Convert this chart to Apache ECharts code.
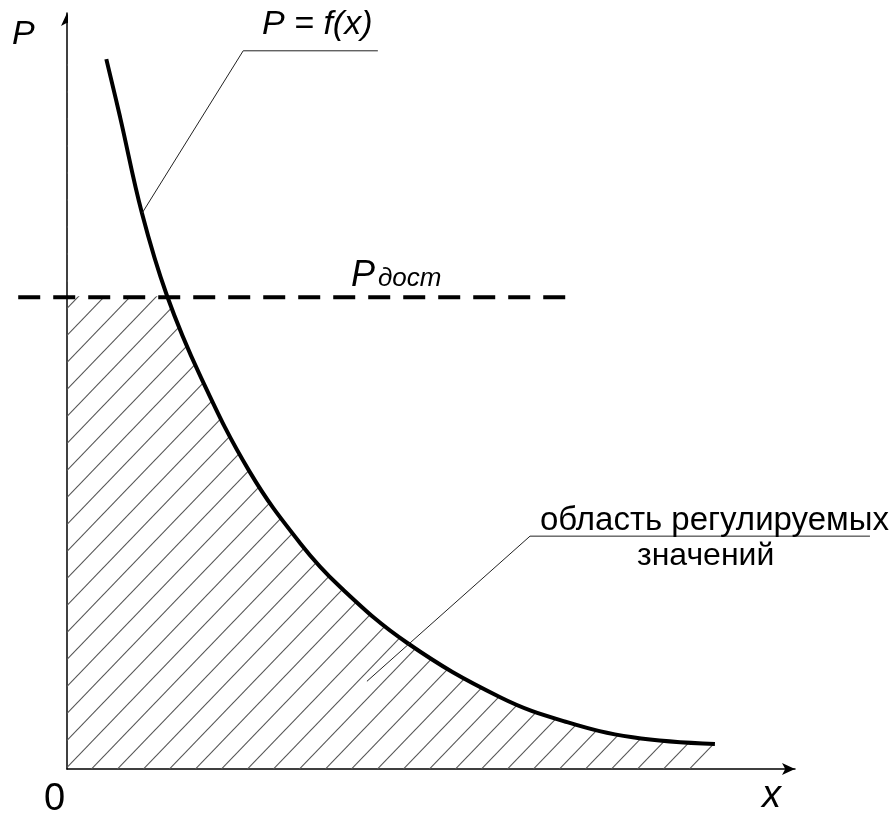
<!DOCTYPE html>
<html><head><meta charset="utf-8">
<script src="https://cdn.jsdelivr.net/npm/echarts@6/dist/echarts.min.js"></script>
<style>html,body{margin:0;padding:0;background:#fff}#c{width:894px;height:814px}</style>
</head><body><div id="c"></div>
<script>
// P = f(x) curve
const curveX = [5.4, 7.3, 10.3, 13.7, 18.3, 25.1, 32.0, 37.5, 46.7, 59.5, 68.7, 77.7, 89.0];
const curveP = [93.9, 86.2, 73.5, 62.7, 52.0, 39.3, 29.9, 24.1, 16.7, 9.5, 6.2, 4.2, 3.3];
// P_дост level and extent of the dashed line
const pDost = 62.4;
const pDostX = [-6.7, 69.0];
// leader lines for the labels
const leaderFx = [[10.3, 73.5], [24.2, 95.0], [42.7, 95.0]];
const leaderArea = [[41.2, 11.6], [63.6, 30.8], [110.3, 30.8]];
// texts
const labelAxisP = 'P';
const labelAxisX = 'x';
const labelOrigin = '0';
const labelCurve = 'P = f(x)';
const labelDostMain = 'P';
const labelDostSub = 'дост';
const labelArea1 = 'область регулируемых';
const labelArea2 = 'значений';

const curveData = curveX.map((x, i) => [x, curveP[i]]);
const areaData = [[0, curveP[0]]].concat(curveData);
const dostData = pDostX.map(x => [x, pDost]);

// hatch pattern
const tile = document.createElement('canvas');
tile.width = 26; tile.height = 27;
const g = tile.getContext('2d');
g.strokeStyle = '#555'; g.lineWidth = 1.1;
[[0, 0], [26, 0], [-26, 0]].forEach(o => {
  g.beginPath(); g.moveTo(-1 + o[0], 28.04 + o[1]); g.lineTo(27 + o[0], -1.04 + o[1]); g.stroke();
});

const chart = echarts.init(document.getElementById('c'), null, {renderer: 'canvas'});
const F = 'Liberation Sans, Arial, sans-serif';
const axisCommon = {
  type: 'value', min: 0, max: 100,
  axisLine: {show: true, onZero: true, symbol: ['none', 'arrow'], symbolSize: [9, 13],
    lineStyle: {color: '#000', width: 1.5}},
  axisTick: {show: false}, axisLabel: {show: false}, splitLine: {show: false}
};
chart.setOption({
  backgroundColor: '#ffffff',
  animation: false,
  grid: {left: 67, right: 99, top: 13, bottom: 45},
  xAxis: axisCommon,
  yAxis: axisCommon,
  series: [
    {type: 'line', data: areaData, smooth: 0.4, symbol: 'none', z: 1,
      lineStyle: {width: 0, opacity: 0},
      areaStyle: {color: {image: tile, repeat: 'repeat'}, opacity: 1}},
    {type: 'line', data: curveData, smooth: 0.4, symbol: 'none', z: 3,
      lineStyle: {color: '#000', width: 4}}
  ]
});

// annotation shapes placed through the chart's own scales
const toPx = pts => pts.map(p => chart.convertToPixel({gridIndex: 0}, p));
const topLeft = chart.convertToPixel({gridIndex: 0}, [0, 100]);
const capRight = chart.convertToPixel({gridIndex: 0}, [30, pDost]);
const graphics = [
  // hides the hatching above the P_дост level
  {type: 'rect', z: 2, shape: {x: topLeft[0] + 1, y: topLeft[1], width: capRight[0] - topLeft[0], height: capRight[1] - topLeft[1] - 1},
    style: {fill: '#ffffff'}},
  {type: 'polyline', z: 100, shape: {points: toPx(dostData)},
    style: {stroke: '#000', lineWidth: 4, lineDash: [22, 13], lineCap: 'butt', fill: null}},
  {type: 'polyline', z: 100, shape: {points: toPx(leaderFx)},
    style: {stroke: '#222', lineWidth: 1, fill: null}},
  {type: 'polyline', z: 100, shape: {points: toPx(leaderArea)},
    style: {stroke: '#222', lineWidth: 1, fill: null}},
  {type: 'text', z: 100, left: 12, top: 18, style: {text: labelAxisP, font: 'italic 34px ' + F, fill: '#000'}},
  {type: 'text', z: 100, left: 262, top: 8, style: {text: labelCurve, font: 'italic 34px ' + F, fill: '#000'}},
  {type: 'text', z: 100, left: 351, top: 258, style: {text: labelDostMain, font: 'italic 36px ' + F, fill: '#000'}},
  {type: 'text', z: 100, left: 378, top: 266, style: {text: labelDostSub, font: 'italic 26px ' + F, fill: '#000'}},
  {type: 'text', z: 100, left: 540, top: 504, style: {text: labelArea1, font: '33px ' + F, fill: '#000'}},
  {type: 'text', z: 100, left: 637, top: 540, style: {text: labelArea2, font: '32px ' + F, fill: '#000'}},
  {type: 'text', z: 100, left: 44, top: 781, style: {text: labelOrigin, font: '38px ' + F, fill: '#000'}},
  {type: 'text', z: 100, left: 762, top: 777, style: {text: labelAxisX, font: 'italic 38px ' + F, fill: '#000'}}
];
chart.setOption({graphic: graphics});
</script></body></html>
